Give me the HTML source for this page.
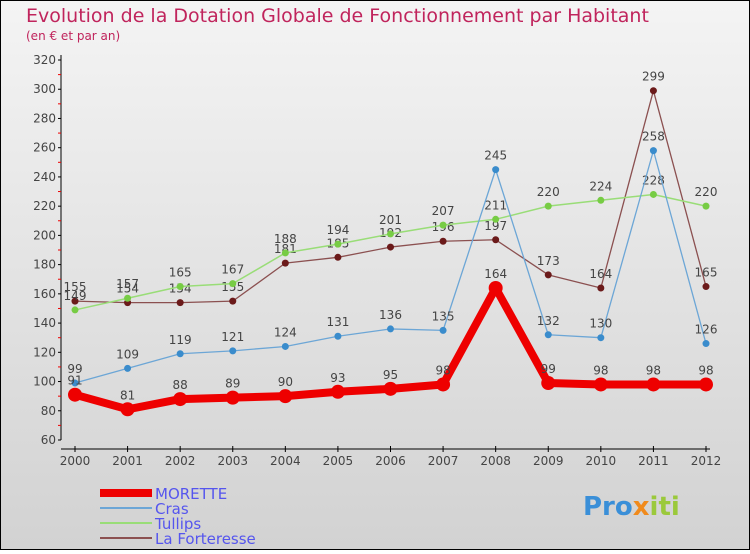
<!DOCTYPE html>
<html><head><meta charset="utf-8"><style>
body{margin:0;width:750px;height:550px;overflow:hidden;font-family:"DejaVu Sans","Liberation Sans",sans-serif}
svg text{font-family:"DejaVu Sans","Liberation Sans",sans-serif}
</style></head><body>
<svg id="c" width="750" height="550" viewBox="0 0 750 550">
<defs><linearGradient id="bg" x1="0" y1="0" x2="0" y2="1"><stop offset="0" stop-color="#f4f4f4"/><stop offset="1" stop-color="#d2d2d2"/></linearGradient></defs>
<rect x="0.5" y="0.5" width="749" height="549" fill="url(#bg)" stroke="#000"/>
<text x="26" y="22" font-size="19" fill="#c0245c">Evolution de la Dotation Globale de Fonctionnement par Habitant</text>
<text x="26" y="40" font-size="12" fill="#c0245c">(en € et par an)</text>
<g id="axes"></g><g id="series"></g>
<g>
<rect x="100" y="489" width="52" height="8" fill="#ee0000"/>
<text x="155" y="499" font-size="15" fill="#5555ee">MORETTE</text>
<rect x="100" y="507" width="52" height="2" fill="#6ca6d6"/>
<text x="155" y="514" font-size="15" fill="#5555ee">Cras</text>
<rect x="100" y="522" width="52" height="2" fill="#99dd77"/>
<text x="155" y="529" font-size="15" fill="#5555ee">Tullips</text>
<rect x="100" y="537" width="52" height="2" fill="#8b5050"/>
<text x="155" y="544" font-size="15" fill="#5555ee">La Forteresse</text>
</g>
<text x="583" y="515" font-size="26" font-weight="bold" fill="#3a8fd8">Pro<tspan fill="#f08a1c">x</tspan><tspan fill="#9bc93b">iti</tspan></text>
</svg>
<script>
const years=["2000","2001","2002","2003","2004","2005","2006","2007","2008","2009","2010","2011","2012"];
const yTicks=[60,80,100,120,140,160,180,200,220,240,260,280,300,320];
const morette=[91,81,88,89,90,93,95,98,164,99,98,98,98];
const cras=[99,109,119,121,124,131,136,135,245,132,130,258,126];
const tullips=[149,157,165,167,188,194,201,207,211,220,224,228,220];
const forteresse=[155,154,154,155,181,185,192,196,197,173,164,299,165];
const NS="http://www.w3.org/2000/svg";
const xS=i=>75+i*(706-75)/12;
const yS=v=>440-(v-60)*(380/260);
function mk(t,a,p){const e=document.createElementNS(NS,t);for(const k in a)e.setAttribute(k,a[k]);p.appendChild(e);return e;}
const ax=document.getElementById('axes');
let yl=mk('line',{x1:61,y1:55,x2:61,y2:440,stroke:'#000'},ax);


let xl=mk('line',{x1:61,y1:449,x2:710,y2:449,stroke:'#000'},ax);


yTicks.forEach((v,i)=>{const y=yS(v);
mk('line',{x1:58,y1:y,x2:61,y2:y,stroke:'#000'},ax);
if(i<yTicks.length-1)mk('line',{x1:58,y1:yS(v+10),x2:61,y2:yS(v+10),stroke:'#e00'},ax);
const t=mk('text',{x:56,y:y+4,'font-size':12,'text-anchor':'end',fill:'#444'},ax);t.textContent=v;

});
years.forEach((yr,i)=>{const x=xS(i);
mk('line',{x1:x,y1:446,x2:x,y2:452,stroke:'#000'},ax);
const t=mk('text',{x:x,y:465,'font-size':12,'text-anchor':'middle',fill:'#444'},ax);t.textContent=yr;

});
const sg=document.getElementById('series');
function draw(data,name,color,w,r,lc){
const g=mk('g',{},sg);


mk('polyline',{points:data.map((v,i)=>xS(i)+','+yS(v)).join(' '),fill:'none',stroke:lc,'stroke-width':w,'stroke-linejoin':'round'},g);
data.forEach((v,i)=>{const c=mk('circle',{cx:xS(i),cy:yS(v),r:r,fill:color},g);


const t=mk('text',{x:xS(i),y:yS(v)-10,'font-size':12,'text-anchor':'middle',fill:'#444'},g);t.textContent=v;

});}
draw(forteresse,'la-forteresse','#6b1a1a',1.3,3.5,'#8b5050');
draw(tullips,'tullips','#77cc44',1.5,3.5,'#99dd77');
draw(cras,'cras','#3a8ccc',1.3,3.5,'#6ca6d6');
draw(morette,'morette','#ee0000',8,7,'#ee0000');
</script>
</body></html>
